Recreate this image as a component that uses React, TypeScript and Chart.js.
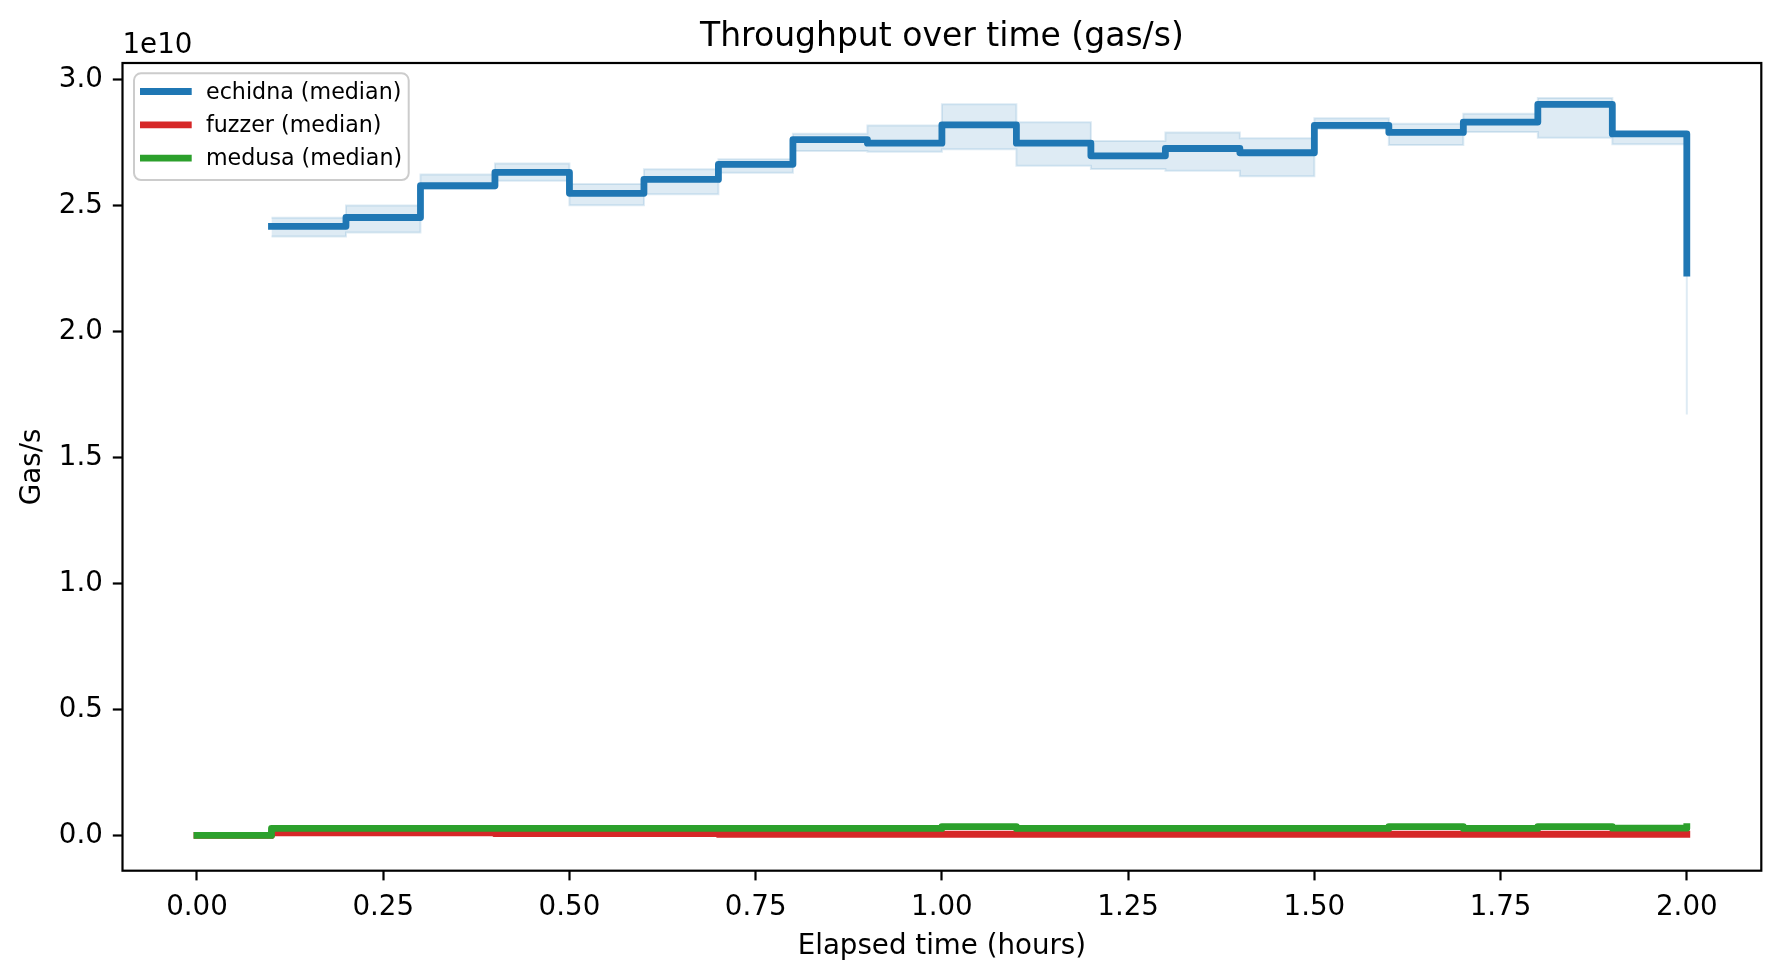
import React, { useEffect, useRef } from "react";
import { Chart, registerables } from "chart.js";

Chart.register(...registerables);

// Elapsed time (hours) of each sample
const timeHours = [0, 0.1, 0.2, 0.3, 0.4, 0.5, 0.6, 0.7, 0.8, 0.9, 1.0, 1.1, 1.2, 1.3, 1.4, 1.5, 1.6, 1.7, 1.8, 1.9, 2.0];

// Throughput values in units of 1e10 gas/s
const echidnaMedian = [null, 2.419, 2.454, 2.58, 2.633, 2.55, 2.605, 2.665, 2.763, 2.749, 2.822, 2.749, 2.699, 2.728, 2.711, 2.82, 2.792, 2.833, 2.903, 2.786, 2.233];
const echidnaUpper = [null, 2.453, 2.502, 2.625, 2.668, 2.587, 2.646, 2.685, 2.787, 2.819, 2.904, 2.832, 2.758, 2.792, 2.769, 2.848, 2.826, 2.866, 2.929, 2.79, 2.3];
const echidnaLower = [null, 2.379, 2.394, 2.568, 2.6, 2.503, 2.546, 2.632, 2.718, 2.715, 2.725, 2.659, 2.647, 2.64, 2.618, 2.805, 2.742, 2.793, 2.771, 2.745, 1.672];
const fuzzerMedian = [0, 0.0099, 0.0099, 0.0099, 0.0072, 0.0072, 0.0072, 0.004, 0.004, 0.004, 0.0048, 0.0048, 0.0048, 0.0048, 0.0048, 0.0048, 0.0048, 0.0048, 0.0048, 0.0048, 0.0048];
const medusaMedian = [0, 0.028, 0.028, 0.028, 0.028, 0.028, 0.028, 0.028, 0.028, 0.028, 0.035, 0.028, 0.028, 0.028, 0.028, 0.028, 0.035, 0.028, 0.035, 0.029, 0.035];

const xTickValues = [0, 0.25, 0.5, 0.75, 1.0, 1.25, 1.5, 1.75, 2.0];
const yTickValues = [0, 0.5, 1.0, 1.5, 2.0, 2.5, 3.0];

const legendLabels = ["echidna (median)", "fuzzer (median)", "medusa (median)"];
const legendColors = ["#1f77b4", "#d62728", "#2ca02c"];

const chartTitle = "Throughput over time (gas/s)";
const xTitle = "Elapsed time (hours)";
const yTitle = "Gas/s";
const offsetText = "1e10";

const FONT = "'DejaVu Sans', sans-serif";
const BAND_COLOR = "rgba(31,119,180,0.15)";
const LINE_W = 6.8;

const toPoints = (vals: (number | null)[]) => timeHours.map((t, i) => ({ x: t, y: vals[i] }));

const framePlugin = {
  id: "frame",
  afterDatasetsDraw(chart: any) {
    const { ctx, chartArea } = chart;
    ctx.save();
    ctx.strokeStyle = "#000";
    ctx.lineWidth = 2.2;
    ctx.strokeRect(chartArea.left, chartArea.top, chartArea.right - chartArea.left, chartArea.bottom - chartArea.top);
    ctx.restore();
  },
  afterDraw(chart: any) {
    const { ctx, chartArea } = chart;
    ctx.save();
    // offset text
    ctx.fillStyle = "#000";
    ctx.font = `27.7px ${FONT}`;
    ctx.textAlign = "left";
    ctx.textBaseline = "alphabetic";
    ctx.fillText(offsetText, chartArea.left, chartArea.top - 10.3);

    // legend
    const bx = chartArea.left + 11.5;
    const by = chartArea.top + 10.3;
    const bw = 274.7;
    const bh = 106.7;
    const r = 7;
    ctx.beginPath();
    ctx.moveTo(bx + r, by);
    ctx.lineTo(bx + bw - r, by);
    ctx.arcTo(bx + bw, by, bx + bw, by + r, r);
    ctx.lineTo(bx + bw, by + bh - r);
    ctx.arcTo(bx + bw, by + bh, bx + bw - r, by + bh, r);
    ctx.lineTo(bx + r, by + bh);
    ctx.arcTo(bx, by + bh, bx, by + bh - r, r);
    ctx.lineTo(bx, by + r);
    ctx.arcTo(bx, by, bx + r, by, r);
    ctx.closePath();
    ctx.fillStyle = "rgba(255,255,255,0.8)";
    ctx.fill();
    ctx.strokeStyle = "#cccccc";
    ctx.lineWidth = 2;
    ctx.stroke();

    ctx.font = `22.2px ${FONT}`;
    legendLabels.forEach((label, i) => {
      const cy = by + 18.2 + i * 33.3;
      ctx.strokeStyle = legendColors[i];
      ctx.lineWidth = LINE_W;
      ctx.lineCap = "butt";
      ctx.beginPath();
      ctx.moveTo(bx + 6, cy);
      ctx.lineTo(bx + 57.7, cy);
      ctx.stroke();
      ctx.fillStyle = "#000";
      ctx.fillText(label, bx + 72, cy + 7.3);
    });
    ctx.restore();
  },
};

export default function App() {
  const canvasRef = useRef<HTMLCanvasElement | null>(null);

  useEffect(() => {
    if (!canvasRef.current) return;
    Chart.defaults.font.family = FONT;
    Chart.defaults.color = "#000";

    // Chart.js "before" = value holds until the next sample (matplotlib steps-post)
    const lineCommon = {
      stepped: "before" as const,
      pointRadius: 0,
      pointHoverRadius: 0,
      spanGaps: false,
      borderCapStyle: "square" as const,
      borderJoinStyle: "round" as const,
    };

    const chart = new Chart(canvasRef.current, {
      type: "line",
      data: {
        datasets: [
          {
            label: "echidna band upper",
            data: toPoints(echidnaUpper),
            ...lineCommon,
            borderCapStyle: "butt",
            borderJoinStyle: "miter",
            borderColor: BAND_COLOR,
            borderWidth: 2,
            backgroundColor: BAND_COLOR,
            fill: "+1",
            order: 5,
          },
          {
            label: "echidna band lower",
            data: toPoints(echidnaLower),
            ...lineCommon,
            borderCapStyle: "butt",
            borderJoinStyle: "miter",
            borderColor: BAND_COLOR,
            borderWidth: 2,
            fill: false,
            order: 6,
          },
          {
            label: legendLabels[0],
            data: toPoints(echidnaMedian),
            ...lineCommon,
            borderColor: legendColors[0],
            borderWidth: LINE_W,
            fill: false,
            order: 3,
          },
          {
            label: legendLabels[1],
            data: toPoints(fuzzerMedian),
            ...lineCommon,
            borderColor: legendColors[1],
            borderWidth: LINE_W,
            fill: false,
            order: 2,
          },
          {
            label: legendLabels[2],
            data: toPoints(medusaMedian),
            ...lineCommon,
            borderColor: legendColors[2],
            borderWidth: LINE_W,
            fill: false,
            order: 1,
          },
        ],
      },
      options: {
        responsive: false,
        animation: false,
        devicePixelRatio: 1,
        events: [],
        layout: { padding: { left: 0, right: 18.7, top: 0, bottom: 0 } },
        plugins: {
          legend: { display: false },
          tooltip: { enabled: false },
          title: {
            display: true,
            fullSize: false,
            text: chartTitle,
            color: "#000",
            font: { size: 33, weight: "normal", family: FONT },
            padding: { top: 17.8, bottom: 5.6 },
          },
        },
        scales: {
          x: {
            type: "linear",
            min: -0.1,
            max: 2.1,
            afterBuildTicks: (scale: any) => {
              scale.ticks = xTickValues.map((v) => ({ value: v }));
            },
            afterFit: (scale: any) => {
              scale.height = 107.3;
            },
            ticks: {
              autoSkip: false,
              maxRotation: 0,
              padding: 10.5,
              color: "#000",
              font: { size: 27.7, family: FONT },
              callback: (v: any) => Number(v).toFixed(2),
            },
            grid: {
              display: true,
              drawOnChartArea: false,
              drawTicks: true,
              tickLength: 9.7,
              tickWidth: 2.2,
              tickColor: "#000",
            },
            border: { display: false },
            title: {
              display: true,
              text: xTitle,
              color: "#000",
              font: { size: 27.7, family: FONT },
              padding: { top: 0, bottom: 14.9 },
            },
          },
          y: {
            type: "linear",
            min: -0.14,
            max: 3.0675,
            afterBuildTicks: (scale: any) => {
              scale.ticks = yTickValues.map((v) => ({ value: v }));
            },
            afterFit: (scale: any) => {
              scale.width = 122.5;
            },
            ticks: {
              autoSkip: false,
              padding: 10,
              color: "#000",
              font: { size: 27.7, family: FONT },
              callback: (v: any) => Number(v).toFixed(1),
            },
            grid: {
              display: true,
              drawOnChartArea: false,
              drawTicks: true,
              tickLength: 9.7,
              tickWidth: 2.2,
              tickColor: "#000",
            },
            border: { display: false },
            title: {
              display: true,
              text: yTitle,
              color: "#000",
              font: { size: 27.7, family: FONT },
              padding: { top: 16, bottom: 0 },
            },
          },
        },
      },
      plugins: [framePlugin],
    } as any);

    return () => chart.destroy();
  }, []);

  return (
    <div style={{ position: "absolute", left: 0, top: 0, width: 1780, height: 978, background: "#fff" }}>
      <canvas ref={canvasRef} width={1780} height={978} style={{ display: "block", width: 1780, height: 978 }} />
    </div>
  );
}
